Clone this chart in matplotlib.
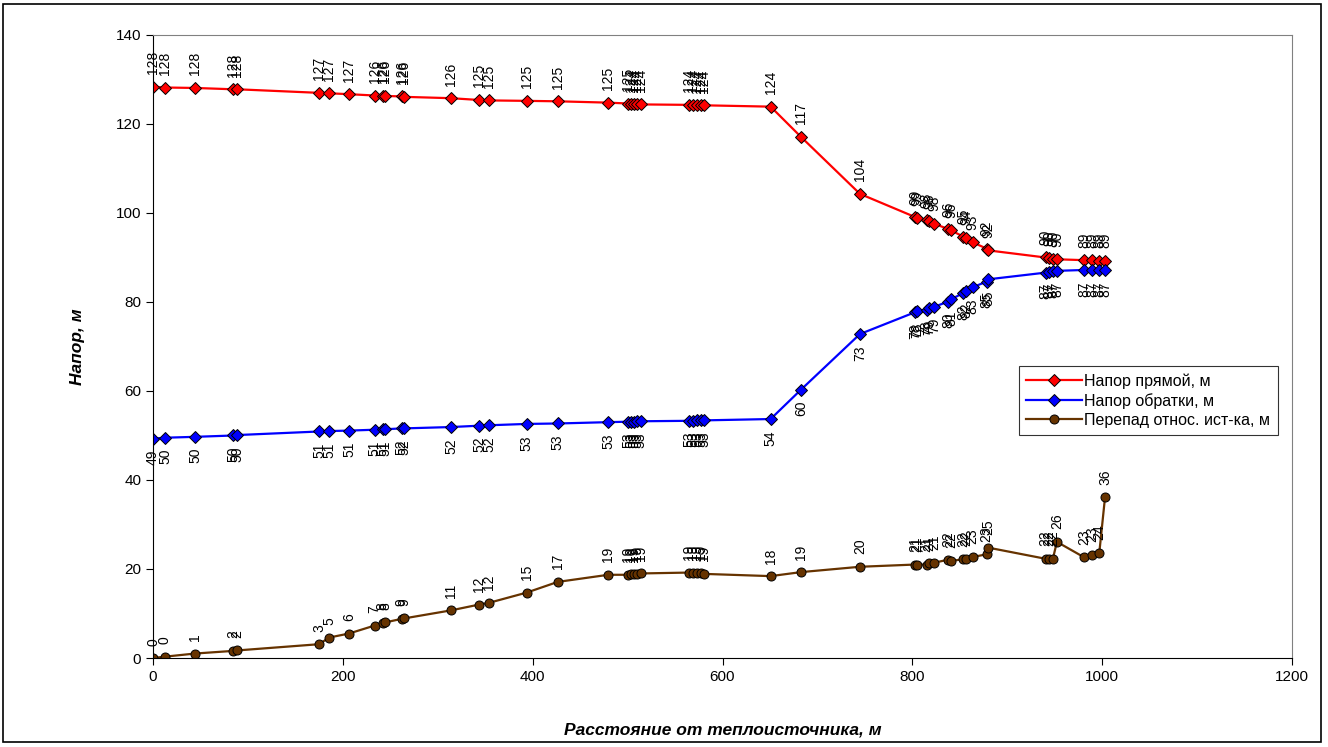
import matplotlib.pyplot as plt
from matplotlib.patches import Rectangle


# -----------------------------
# Data
# -----------------------------
distance = [
    0, 12.6, 44.2, 84.6, 88.8, 174.9, 185.7, 206.5, 233.6, 242.0,
    244.7, 262.0, 264.7, 313.9, 343.4, 354.0, 393.7, 426.4, 479.7, 500.7,
    503.6, 506.7, 509.9, 514.0, 565.0, 568.9, 573.1, 577.3, 580.8, 650.7,
    682.7, 744.8, 802.8, 805.2, 815.1, 817.5, 822.8, 837.9, 840.7, 853.6,
    856.5, 863.6, 878.3, 880.0, 940.3, 944.4, 948.1, 952.3, 981.2, 989.6,
    997.0, 1003.0,
]

supply_head = [
    128.4, 128.2, 128.1, 127.8, 127.8, 127.0, 126.9, 126.7, 126.4, 126.3,
    126.3, 126.2, 126.1, 125.8, 125.4, 125.3, 125.2, 125.1, 124.8, 124.6,
    124.4, 124.4, 124.4, 124.4, 124.3, 124.3, 124.2, 124.2, 124.2, 123.9,
    117.1, 104.3, 99.1, 98.8, 98.4, 98.2, 97.6, 96.4, 96.1, 94.7,
    94.4, 93.4, 92.0, 91.6, 90.0, 89.8, 89.7, 89.6, 89.4, 89.4,
    89.3, 89.3,
]

return_head = [
    49.3, 49.5, 49.7, 50.0, 50.1, 50.9, 51.0, 51.1, 51.3, 51.4,
    51.4, 51.6, 51.6, 51.9, 52.2, 52.3, 52.6, 52.7, 53.0, 53.1,
    53.1, 53.1, 53.2, 53.2, 53.3, 53.3, 53.4, 53.4, 53.4, 53.7,
    60.3, 72.8, 77.7, 77.9, 78.3, 78.6, 78.9, 80.1, 80.6, 82.0,
    82.4, 83.3, 84.6, 85.1, 86.6, 86.8, 86.9, 87.0, 87.2, 87.2,
    87.2, 87.2,
]

source_drop = [
    0.0, 0.3, 1.0, 1.6, 1.7, 3.1, 4.6, 5.5, 7.3, 7.9,
    8.0, 8.8, 8.9, 10.7, 12.0, 12.4, 14.7, 17.1, 18.7, 18.7,
    18.8, 18.8, 18.9, 19.0, 19.2, 19.2, 19.2, 19.2, 18.9, 18.4,
    19.3, 20.5, 21.0, 21.0, 21.0, 21.3, 21.4, 22.1, 21.8, 22.2,
    22.3, 22.7, 23.3, 24.8, 22.3, 22.3, 22.3, 26.1, 22.6, 23.2,
    23.7, 36.1,
]

series_names = [
    "Напор прямой, м",
    "Напор обратки, м",
    "Перепад относ. ист-ка, м",
]


# -----------------------------
# Style
# -----------------------------
plt.rcParams["font.family"] = ["Liberation Sans", "DejaVu Sans"]

RED = "#FF0000"
BLUE = "#0000FF"
BROWN = "#663300"
LABEL_SIZE = 10


# -----------------------------
# Plot
# -----------------------------
fig = plt.figure(figsize=(13.28, 7.47), dpi=100)
ax = fig.add_axes([153 / 1328, 1 - 658 / 747, 1139 / 1328, 623 / 747])

# outer chart border
fig.patches.append(Rectangle(
    (3 / 1328, 5 / 747), 1318 / 1328, 738 / 747,
    transform=fig.transFigure, fill=False,
    edgecolor="#000000", linewidth=1.2
))

ax.plot(
    distance, supply_head,
    color=RED, linewidth=1.6,
    marker="D", markersize=6, markerfacecolor=RED,
    markeredgecolor="black", markeredgewidth=0.7,
    label=series_names[0]
)

ax.plot(
    distance, return_head,
    color=BLUE, linewidth=1.6,
    marker="D", markersize=6, markerfacecolor=BLUE,
    markeredgecolor="black", markeredgewidth=0.7,
    label=series_names[1]
)

ax.plot(
    distance, source_drop,
    color=BROWN, linewidth=1.6,
    marker="o", markersize=6.5, markerfacecolor=BROWN,
    markeredgecolor="black", markeredgewidth=0.7,
    label=series_names[2]
)

# value labels: supply and drop above the point, return below
for x, y in zip(distance, supply_head):
    ax.annotate(f"{y:.0f}", (x, y), xytext=(0, 9), textcoords="offset points",
                rotation=90, ha="center", va="bottom", fontsize=LABEL_SIZE)

for x, y in zip(distance, return_head):
    ax.annotate(f"{y:.0f}", (x, y), xytext=(0, -8), textcoords="offset points",
                rotation=90, ha="center", va="top", fontsize=LABEL_SIZE)

for x, y in zip(distance, source_drop):
    ax.annotate(f"{y:.0f}", (x, y), xytext=(0, 9), textcoords="offset points",
                rotation=90, ha="center", va="bottom", fontsize=LABEL_SIZE)


# -----------------------------
# Axes
# -----------------------------
ax.set_xlim(0, 1200)
ax.set_ylim(0, 140)
ax.set_xticks(range(0, 1201, 200))
ax.set_yticks(range(0, 141, 20))
ax.tick_params(direction="out", length=5, width=0.8, labelsize=11, colors="black")

ax.spines["top"].set_color("#808080")
ax.spines["right"].set_color("#808080")
for side in ("left", "bottom"):
    ax.spines[side].set_color("black")

ax.set_xlabel("Расстояние от теплоисточника, м",
              fontsize=12.5, fontweight="bold", fontstyle="italic", labelpad=28)
ax.set_ylabel("Напор, м",
              fontsize=12.5, fontweight="bold", fontstyle="italic", labelpad=22)

ax.legend(
    loc="upper left",
    bbox_to_anchor=((1019 - 153) / 1139, (658 - 366) / 623),
    frameon=True, fancybox=False, edgecolor="black",
    fontsize=11.5, handlelength=3.5, handletextpad=0.15,
    borderpad=0.45, labelspacing=0.25, borderaxespad=0
).get_frame().set_linewidth(0.8)

plt.savefig("out.png", dpi=100)
